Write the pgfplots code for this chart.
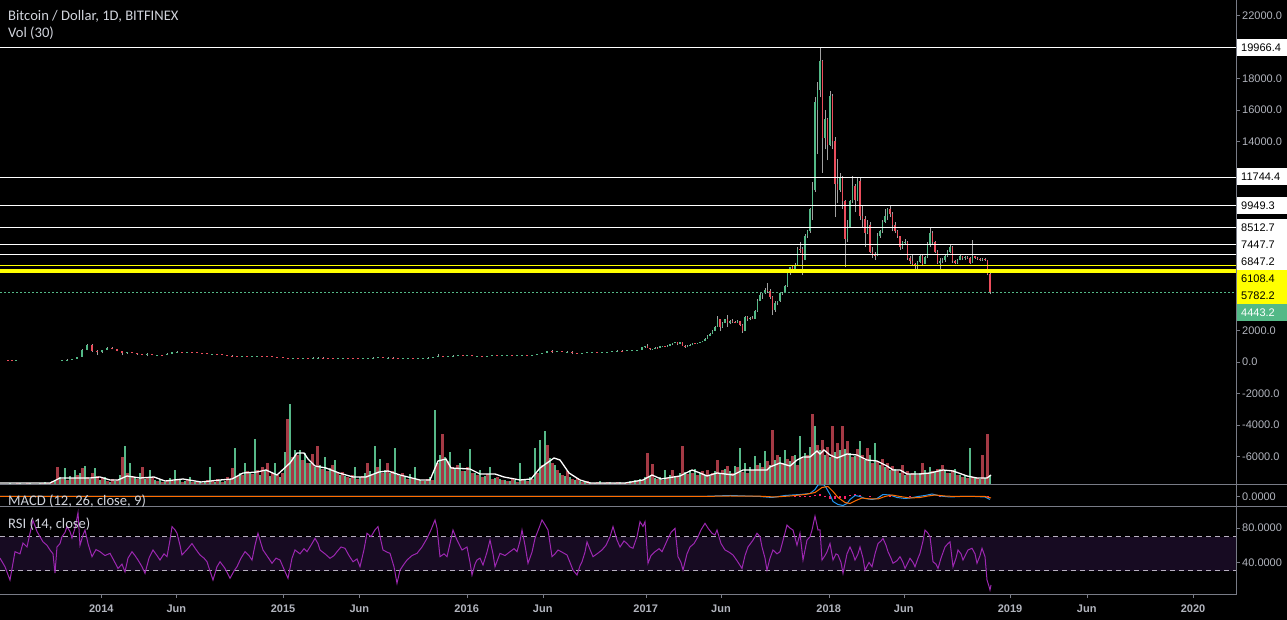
\documentclass[border=0pt]{standalone}
\usepackage{pgfplots}
\pgfplotsset{compat=1.18}
\usepackage{pgfplotstable}
\usepackage{fontspec}
\setmainfont{Liberation Sans}
\newfontfamily\legfont{Carlito}
\definecolor{up}{HTML}{53B987}
\definecolor{dn}{HTML}{EB4D5C}
\definecolor{vup}{HTML}{56B888}
\definecolor{vdn}{HTML}{A53A45}
\definecolor{wick}{HTML}{A0A0A0}
\definecolor{axgray}{HTML}{787B86}
\definecolor{txt}{HTML}{B2B5BE}
\definecolor{ttl}{HTML}{D1D4DC}
\definecolor{rsiline}{HTML}{9C27B0}
\definecolor{rsifill}{HTML}{170B22}
\definecolor{rsidash}{HTML}{B8B0C0}
\definecolor{macdblue}{HTML}{2196F3}
\definecolor{macdorange}{HTML}{FF6D00}
\definecolor{hist}{HTML}{FF1F6B}
\definecolor{ylw}{HTML}{FFFF00}

\pgfplotstableread{
x o h l c
16 92 100 85 97
62 125 140 120 138
67 138 160 135 155
72 155 210 150 205
77 205 330 200 320
82 320 800 310 760
87 760 1170 740 1100
102 620 780 600 760
107 760 960 750 900
127 560 660 520 620
147 450 540 360 500
157 440 460 420 450
167 445 540 440 530
172 530 630 520 620
177 620 680 600 650
187 590 650 580 640
212 500 520 460 505
242 360 400 350 390
252 340 380 330 370
257 370 400 350 380
293 210 260 200 230
303 220 260 215 240
313 235 300 230 275
318 275 300 260 285
338 225 240 215 235
343 235 245 230 240
363 225 250 220 245
368 245 265 240 260
373 260 290 255 285
378 285 310 275 290
388 275 290 270 285
403 230 240 220 235
408 235 245 225 240
418 230 240 225 235
423 235 250 235 245
428 245 290 240 280
433 280 340 275 325
438 325 500 310 380
448 330 360 320 355
453 355 420 350 400
458 400 470 390 440
467 430 440 420 435
477 380 400 370 385
487 370 390 365 380
492 380 440 375 420
502 410 420 405 415
507 415 425 410 420
517 415 430 410 425
522 425 465 420 455
532 450 460 445 455
537 455 530 450 520
542 520 590 510 580
547 580 700 570 690
557 640 700 620 670
567 650 680 640 660
582 575 590 565 580
587 580 615 570 605
592 605 615 600 610
602 600 620 595 615
607 615 640 610 635
612 635 715 630 700
617 700 740 690 720
627 710 750 700 740
632 740 770 730 760
637 760 790 750 780
642 780 940 780 930
645 930 1020 920 1000
652.5 800 850 780 830
655 830 930 820 920
660 915 1000 910 990
662.5 990 1030 980 1020
667.5 1000 1050 990 1040
670 1040 1130 1030 1120
672.5 1120 1200 1110 1190
675 1190 1290 1180 1270
680 1150 1260 1140 1240
687.5 950 1050 930 1040
690 1040 1120 1030 1100
692.5 1100 1220 1090 1200
697.5 1180 1230 1170 1220
700 1220 1280 1200 1260
702.5 1260 1350 1250 1340
705 1340 1500 1330 1480
707.5 1480 1700 1470 1680
710 1680 1850 1650 1800
712.5 1800 2000 1780 1980
715 1980 2300 1950 2250
717.5 2250 2950 2250 2700
722.5 2200 2550 2150 2500
725 2500 2750 2480 2700
730 2450 2650 2400 2600
737.5 2500 2650 2480 2600
745 1950 2900 1950 2850
750 2700 2850 2650 2800
755 2750 3300 2730 3250
757.5 3250 4000 3200 3900
760 3900 4400 3900 4250
762.5 4250 4400 4000 4350
765 4350 4700 4300 4600
775 3300 3900 3200 3750
777.5 3750 3900 3600 3850
780 3850 4400 3800 4350
782.5 4350 4450 4250 4400
785 4400 4900 4350 4800
787.5 4800 5900 4750 5700
790 5700 6050 5550 6000
795 5900 6300 5700 6150
797.5 6150 7300 6100 7200
805 6500 8100 6450 8000
807.5 8000 8400 7900 8300
810 8300 9800 8200 9700
812.5 9700 11400 9000 10900
815 10900 16800 10800 16500
817.5 16000 17800 13200 17300
820 17300 19966 16800 19100
825 14200 16000 13500 15400
830 13800 17200 13700 16900
840 10900 12000 10800 11700
847.5 7800 9000 7600 8600
850 8600 10300 8500 10200
852.5 10200 11800 10100 11200
857.5 10300 11700 10200 11500
867.5 8200 9000 8100 8700
877.5 6700 8200 6700 8000
880 8000 8400 7900 8300
882.5 8300 9000 8200 8900
885 8900 9700 8800 9300
887.5 9300 9800 9000 9700
902.5 7300 7700 7200 7600
905 7600 7800 7450 7650
917.5 6100 6400 5900 6350
920 6350 6800 6300 6700
925 6250 6700 6200 6650
927.5 6650 7600 6600 7400
930 7400 8500 7300 8200
940 6300 6600 5850 6400
942.5 6400 6600 6300 6450
945 6450 6800 6350 6700
947.5 6700 7100 6650 7000
950 7000 7430 6950 7300
957.5 6300 6550 6250 6500
960 6500 6800 6450 6700
965 6600 6700 6500 6650
972.5 6300 7750 6300 6700
982.5 6450 6600 6420 6550
}\upc

\pgfplotstableread{
x o h l c
8 100 110 90 95
12 95 100 88 92
92 1100 1150 650 700
97 700 760 450 620
112 900 930 800 820
117 820 850 680 700
122 700 720 420 560
132 620 650 560 580
137 580 600 460 480
142 480 500 420 450
152 500 520 420 440
162 450 460 430 445
182 650 660 560 590
192 640 650 610 620
197 620 630 580 590
202 590 600 570 580
207 580 590 480 500
217 505 510 470 480
222 480 490 430 445
227 445 450 380 400
232 400 420 350 380
237 380 400 340 360
247 390 400 320 340
262 380 390 360 370
267 370 380 340 350
272 350 360 310 320
277 320 330 300 315
283 315 320 260 270
288 270 280 165 210
298 230 250 210 220
308 240 250 225 235
323 285 295 245 250
328 250 260 240 245
333 245 250 220 225
348 240 245 230 235
353 235 240 225 230
358 230 235 220 225
383 290 295 270 275
393 285 290 260 265
398 265 270 200 230
413 240 245 225 230
443 380 390 300 330
463 440 460 420 430
472 435 460 360 380
482 385 390 360 370
497 420 440 400 410
512 420 425 410 415
527 455 460 440 450
552 690 780 600 640
562 670 680 640 650
572 660 670 480 580
577 580 600 560 575
597 610 615 595 600
622 720 730 690 710
647.5 1020 1150 880 900
650 900 920 760 800
657.5 920 930 890 915
665 1020 1040 930 1000
677.5 1270 1300 1050 1150
682.5 1240 1260 1000 1040
685 1040 1060 900 950
695 1200 1220 1150 1180
720 2700 2750 1950 2200
727.5 2700 2980 2250 2450
732.5 2600 2750 2480 2550
735 2550 2600 2450 2500
740 2600 2620 2300 2350
742.5 2350 2400 1850 1950
747.5 2850 2900 2600 2700
752.5 2800 2900 2700 2750
767.5 4600 5000 4400 4500
770 4500 4650 4000 4150
772.5 4150 4200 2980 3300
792.5 6000 6150 5800 5900
800 7200 7600 6950 7150
802.5 7150 7300 5500 6500
822.5 19100 19200 12000 14200
827.5 15400 15500 12800 13800
832.5 16900 17000 13500 14000
835 14000 14300 9200 11300
837.5 11300 12900 10100 10900
842.5 11700 11800 9700 10200
845 10200 10300 6000 7800
855 11200 11300 9500 10300
860 11500 11700 9000 9300
862.5 9300 9900 8600 9100
865 9100 9300 7300 8200
870 8700 8900 6900 7000
872.5 7000 7300 6600 6800
875 6800 7000 6500 6700
890 9700 9990 9200 9400
892.5 9400 9500 8300 8700
895 8700 8900 8200 8300
897.5 8300 8400 7900 8000
900 8000 8000 7100 7300
907.5 7650 7700 6500 6600
910 6600 6700 6200 6400
912.5 6400 6800 6100 6200
915 6200 6300 5800 6100
922.5 6700 6800 6100 6250
932.5 8200 8300 7500 7600
935 7600 7700 6900 7000
937.5 7000 7100 6200 6300
952.5 7300 7350 6300 6400
955 6400 6500 6200 6300
962.5 6700 6750 6500 6600
967.5 6650 6700 6550 6600
970 6600 6650 6250 6300
975 6700 6750 6550 6600
977.5 6600 6650 6500 6550
980 6550 6600 6400 6450
985 6550 6600 6400 6450
987.5 6450 6450 5500 5600
990 5600 5650 4300 4443.2
}\dnc

\pgfplotstableread{
g r
1 0
1 1
2 1
1 2
2 1
1 2
2 1
1 1
2 2
3 2
2 4
5 18
8 6
17 5
9 7
15 10
12 17
19 8
6 12
17 9
5 7
8 4
3 6
4 5
10 28
39 12
22 9
8 6
12 18
6 7
15 8
5 4
6 3
3 5
7 4
15 5
6 3
4 5
8 3
3 4
4 2
3 5
18 4
3 6
5 3
4 8
6 17
37 9
12 10
22 14
13 11
46 15
10 18
14 22
9 12
22 10
8 12
33 66
81 28
35 30
35 25
32 22
22 31
18 39
20 16
28 14
17 20
25 12
10 13
9 8
7 10
18 6
8 9
12 22
14 10
39 18
26 12
15 22
12 14
37 10
9 12
8 6
11 7
18 5
5 4
4 6
8 5
75 22
30 51
28 24
33 18
16 20
22 14
14 18
36 12
12 10
15 8
9 11
18 6
7 8
6 5
5 4
4 6
5 3
22 5
6 4
8 6
37 12
45 20
54 40
27 22
20 15
12 10
9 14
8 6
5 7
4 3
3 4
3 2
2 3
4 2
2 3
3 2
2 3
3 2
2 3
4 3
5 4
6 5
8 32
9 21
7 6
8 5
15 7
10 15
9 8
12 39
13 11
15 12
16 10
12 14
10 15
9 12
14 25
12 15
16 19
14 12
19 18
37 13
22 12
18 15
29 20
22 18
34 24
20 55
25 30
28 22
35 26
24 29
30 20
49 27
32 30
38 71
59 40
35 45
30 38
28 59
33 42
35 59
36 44
32 28
29 36
44 30
25 37
30 22
42 24
20 26
18 22
15 19
16 14
12 20
10 14
11 12
14 10
12 22
15 12
18 14
13 16
16 20
14 12
12 15
16 10
10 8
9 7
37 8
8 7
6 30
7 51
10 0
}\vol

\pgfplotsset{
  pane/.style={scale only axis, hide axis, width=1236pt, xmin=0, xmax=1236, anchor=south west, clip=true},
  pricey/.style={y filter/.expression={258+0.01575*y}},
  macdy/.style={y filter/.expression={123.5+y}},
  rsiy/.style={y filter/.expression={23.275+0.8575*y}},
  candle/.style={draw=none, mark=none, error bars/.cd, y dir=plus, y explicit, error mark=none, error bar style={draw=#1, line width=1.7pt}},
  wickst/.style={draw=none, mark=none, error bars/.cd, y dir=plus, y explicit, error mark=none, error bar style={draw=wick, line width=0.6pt}},
}

\newcommand\boxlab[4]{%
  \fill[#2] (1236.5,#1-8.5) rectangle (1287,#1+8.5);
  \node[anchor=west, text=#3, font=\fontsize{11}{13}\selectfont, inner sep=0] at (1241,#1) {#4};
}

\begin{document}
\begin{tikzpicture}[x=1pt,y=1pt]
\fill[black] (0,0) rectangle (1287,620);

% ---------- volume (px units above the pane bottom) ----------
\begin{axis}[pane, at={(0,135)}, height=485pt, ymin=0, ymax=485]
\addplot[ycomb, vup, line width=2.2pt, mark=none] table[x expr=\coordindex*5, y=g] {\vol};
\addplot[ycomb, vdn, line width=2.2pt, mark=none] table[x expr=\coordindex*5+2.5, y=r] {\vol};
\addplot[white, line width=1.3pt] coordinates {(0,2)(50,2)(60,7)(90,7)(100,8)(110,5)(118,5)(127,9)(140,7)(154,8)(165,4)(183,6)(201,3)(220,5)(232,6)(243,12)(257,13)(266,15)(277,10)(290,22)(297,32)(304,32)(308,26)(315,19)(326,17)(339,12)(353,8)(366,8)(379,13)(388,14)(400,10)(420,5)(430,5)(438,24)(446,26)(451,17)(470,16)(480,11)(495,11)(504,8)(520,5)(531,6)(540,17)(554,27)(560,25)(569,12)(580,5)(590,2)(625,2)(643,5)(652,10)(661,6)(667,7)(680,9)(692,15)(700,12)(707,9)(717,12)(733,10)(743,15)(767,15)(770,18)(780,22)(790,19)(797,25)(803,28)(810,28)(817,34)(820,31)(824,35)(830,30)(837,27)(847,31)(857,30)(867,25)(877,24)(887,19)(893,15)(900,15)(907,11)(920,11)(930,12)(943,15)(953,14)(967,9)(977,7)(987,7)(991,10)};
\end{axis}

% ---------- price, MACD, RSI in one frame ----------
\begin{axis}[pane, at={(0,0)}, height=620pt, ymin=0, ymax=620]
% RSI pane
\addplot[rsiy, draw=none, fill=rsifill] coordinates {(0,30)(1236,30)(1236,70)(0,70)} -- cycle;
\addplot[rsiy, rsidash, line width=1pt, dash pattern=on 5pt off 4pt] coordinates {(0,70)(1236,70)};
\addplot[rsiy, rsidash, line width=1pt, dash pattern=on 5pt off 4pt] coordinates {(0,30)(1236,30)};
\addplot[rsiy, rsiline, line width=1pt] coordinates {(0,45)(5,35)(10,19.5)(15,52.5)(20,50)(23,62.6)(27,58)(30,74)(33,89)(37,76)(40,70)(43,64)(47,60)(50,54.5)(53,50)(55,27.6)(57,58)(60,62)(62,70)(65,75)(67,81.7)(70,76)(72,68.5)(75,80)(78,98)(80,60)(83,72)(85,77.8)(88,62)(92,46.7)(96,55)(100,52.5)(105,48)(110,50.6)(114,42)(118,33)(122,38)(125,29)(128,45)(132,52.5)(135,48)(138,42.8)(142,35)(145,27.3)(149,45)(153,54.5)(157,48)(160,42.8)(164,50)(167,46.7)(170,66)(172,81.7)(175,78)(177,74)(180,60)(182,48.7)(187,55)(192,62)(196,55)(200,48.7)(204,45)(207,40.8)(210,30)(213,19.5)(217,35)(220,40.8)(225,33)(230,21.5)(234,30)(237,35)(241,45)(245,52.5)(249,48)(252,42.8)(255,60)(258,74)(261,62)(263,54.5)(268,46)(272,39)(276,45)(280,42.8)(284,32)(288,21.5)(292,45)(295,54.5)(300,50)(304,56)(307,52.5)(311,60)(315,68)(318,62)(320,54.5)(325,50)(330,44.8)(334,48)(337,52.5)(341,58)(345,56.5)(349,48)(353,40.8)(357,44)(360,35)(364,55)(367,74)(371,70)(375,78)(378,81.7)(381,65)(383,54.5)(387,52)(390,50.6)(394,35)(397,15.7)(400,31)(404,38)(407,42.8)(412,48)(417,50.6)(422,58)(427,68)(431,78)(435,89.5)(437,80)(440,46.7)(444,50)(447,46.7)(450,62)(453,77.8)(457,66)(462,54.5)(467,58)(470,40)(472,25.3)(475,38)(477,42.8)(480,45)(483,37)(487,52)(490,66)(493,50)(495,35)(500,50.6)(505,48)(510,52.5)(514,56)(517,52.5)(520,65)(522,77.8)(525,60)(528,39)(532,52)(535,68)(539,80)(542,89.5)(545,84)(548,77.8)(552,46.7)(555,50)(558,54.5)(562,52)(567,48.7)(570,40)(573,31)(577,25.3)(580,36)(582,40.8)(585,52)(587,64)(590,55)(593,46.7)(597,50)(602,54.5)(606,60)(610,70)(613,81.7)(617,66)(620,58)(624,65)(627,62)(630,58)(633,56.5)(637,70)(640,87.5)(643,82)(645,87.5)(648,39)(651,48)(655,52.5)(659,56)(662,52.5)(665,60)(668,68)(671,75)(675,79.8)(678,46.7)(681,40)(683,31)(687,50)(690,58)(694,62)(698,70)(701,78)(705,85.6)(708,80)(712,74)(715,72)(717,77.8)(721,62)(725,54.5)(729,52)(733,48.7)(737,42)(742,33)(745,48)(748,58)(753,66)(757,74)(760,70)(762,58)(765,45)(767,31)(770,45)(773,54.5)(777,50)(780,52.5)(784,70)(787,83.6)(790,80)(793,77.8)(797,60)(800,74)(803,42.8)(807,66)(810,70)(812,77.8)(815,94)(818,77.8)(820,78)(822,42.8)(825,48)(827,52.5)(830,62)(833,42.8)(836,50)(838,48.7)(841,40)(843,27.3)(847,50)(850,58)(853,50)(855,42.8)(858,50)(860,58)(863,45)(865,31)(869,40)(872,35)(875,50)(878,62)(881,65)(883,68)(886,60)(888,52.5)(891,45)(893,39)(897,42)(900,46.7)(903,40)(905,33)(908,40)(910,44.8)(913,40)(915,35)(918,45)(920,50.6)(923,65)(925,77.8)(928,74)(930,70)(933,40.8)(936,38)(938,33)(941,45)(945,58)(948,62)(950,64)(953,35)(956,45)(958,54.5)(961,50)(963,42.8)(966,50)(968,54.5)(972,56.5)(975,50)(977,39)(980,48)(982,56.5)(985,46.7)(987,19.5)(989,12)(990,7.8)(991,13.7)};
% MACD pane (px units around the zero line)
\addplot[macdy, draw=none, mark=none, error bars/.cd, y dir=plus, y explicit, error mark=none, error bar style={draw=hist, line width=1.5pt}] coordinates {(795,-0.5) +- (0,0.5) (800,-0.5) +- (0,0.5) (805,0) +- (0,0.5) (810,-0.8) +- (0,0.8) (815,0) +- (0,1) (820,0) +- (0,2) (825,-1) +- (0,1) (830,-2.5) +- (0,2.5) (835,-3) +- (0,3) (840,-2) +- (0,2) (845,-2.5) +- (0,2.5) (850,0) +- (0,1) (855,0) +- (0,2) (860,0) +- (0,1) (870,-0.5) +- (0,0.5) (880,0) +- (0,0.5) (890,0) +- (0,0.5) (900,-1) +- (0,1) (910,0) +- (0,0.5) (940,-0.5) +- (0,0.5) (988,-1) +- (0,1)};
\addplot[macdy, macdblue, line width=1pt] coordinates {(0,0)(700,0)(715,0.5)(730,1)(745,0.5)(760,0)(772,-1)(785,1)(800,2)(810,3)(815,7)(818,11.5)(824,11.5)(826,9)(830,2)(833,-5)(838,-8)(843,-9)(847,-7)(850,-3)(855,1)(860,0)(865,-2)(872,-3)(877,-2)(883,2)(890,1.5)(897,-1)(905,-2)(910,-1.5)(918,0)(925,1)(932,2.5)(940,0.5)(950,-0.5)(960,0)(975,0)(985,-0.5)(990,-3)};
\addplot[macdy, macdorange, line width=1pt] coordinates {(0,0)(700,0)(730,0.5)(760,0.3)(775,-0.5)(790,0.5)(805,2)(815,4)(822,9)(828,10)(833,5)(838,-1)(845,-6)(850,-7)(856,-4)(862,-1.5)(870,-2.5)(878,-2.5)(885,0)(892,1.5)(900,0)(910,-1.5)(920,-1)(928,0.5)(935,1.5)(945,0.5)(955,0)(985,0)(991,-1.5)};
% price pane
\addplot[wickst] table[x=x, y expr=258+0.01575*\thisrow{l}, y error plus expr=0.01575*(\thisrow{h}-\thisrow{l})] {\upc};
\addplot[wickst] table[x=x, y expr=258+0.01575*\thisrow{l}, y error plus expr=0.01575*(\thisrow{h}-\thisrow{l})] {\dnc};
\addplot[candle=up] table[x=x, y expr=258+0.01575*\thisrow{o}, y error plus expr=0.01575*(\thisrow{c}-\thisrow{o})] {\upc};
\addplot[candle=dn] table[x=x, y expr=258+0.01575*\thisrow{c}, y error plus expr=0.01575*(\thisrow{o}-\thisrow{c})] {\dnc};
\addplot[pricey, white, line width=1pt] coordinates {(0,19966.4)(1236,19966.4)};
\addplot[pricey, white, line width=1pt] coordinates {(0,11744.4)(1236,11744.4)};
\addplot[pricey, white, line width=1pt] coordinates {(0,9949.3)(1236,9949.3)};
\addplot[pricey, white, line width=1pt] coordinates {(0,8512.7)(1236,8512.7)};
\addplot[pricey, white, line width=1pt] coordinates {(0,7447.7)(1236,7447.7)};
\addplot[pricey, white, line width=1pt] coordinates {(0,6847.2)(1236,6847.2)};
\addplot[pricey, ylw, line width=1pt] coordinates {(0,6108.4)(1236,6108.4)};
\addplot[pricey, ylw, line width=4pt] coordinates {(0,5782.2)(1236,5782.2)};
\addplot[pricey, up, line width=1pt, dash pattern=on 2pt off 2pt] coordinates {(0,4443.2)(1236,4443.2)};
\end{axis}

% ---------- frame ----------
\draw[axgray, line width=1pt] (1236,25) -- (1236,620);
\draw[axgray, line width=1pt] (0,135) -- (1287,135);
\draw[axgray, line width=1pt] (0,113) -- (1287,113);
\draw[axgray, line width=1pt] (0,25) -- (1236,25);

\foreach \yy/\lab in {604.5/22000.0, 541.5/18000.0, 510/16000.0, 478.5/14000.0, 289.5/2000.0, 258/0.0, 226.5/-2000.0, 195/-4000.0, 163.5/-6000.0, 123.5/0.0000, 91.9/80.0000, 57.6/40.0000} {
  \draw[axgray] (1236,\yy) -- (1240,\yy);
  \node[anchor=west, text=txt, font=\fontsize{11}{13}\selectfont, inner sep=0] at (1242,\yy) {\lab};
}

\boxlab{572.5}{white}{black}{19966.4}
\boxlab{443}{white}{black}{11744.4}
\boxlab{414.7}{white}{black}{9949.3}
\boxlab{392}{white}{black}{8512.7}
\boxlab{375}{white}{black}{7447.7}
\boxlab{358}{white}{black}{6847.2}
\boxlab{341}{ylw}{black}{6108.4}
\boxlab{324}{ylw}{black}{5782.2}
\boxlab{307}{up}{white}{4443.2}

\foreach \xx/\lab in {101.3/2014, 176.3/Jun, 283/2015, 359.3/Jun, 466.7/2016, 542.7/Jun, 645.7/2017, 721/Jun, 828.7/2018, 903.7/Jun, 1010/2019, 1086.7/Jun, 1193/2020} {
  \draw[axgray] (\xx,25) -- (\xx,21.5);
  \node[text=txt, font=\bfseries\fontsize{11}{13}\selectfont, inner sep=0] at (\xx,11.5) {\lab};
}

\node[anchor=base west, inner sep=0, text=ttl, font=\legfont\fontsize{14.6}{16}\selectfont] at (8,599.3) {Bitcoin / Dollar, 1D, BITFINEX};
\node[anchor=base west, inner sep=0, text=ttl, font=\legfont\fontsize{14.6}{16}\selectfont] at (8,582.3) {Vol (30)};
\node[anchor=base west, inner sep=0, text=ttl, font=\legfont\fontsize{14.6}{16}\selectfont] at (8,114) {MACD (12, 26, close, 9)};
\node[anchor=base west, inner sep=0, text=ttl, font=\legfont\fontsize{14.6}{16}\selectfont] at (8,91.5) {RSI (14, close)};
\pgfresetboundingbox
\useasboundingbox (0,0) rectangle (1287,620);
\end{tikzpicture}
\end{document}
